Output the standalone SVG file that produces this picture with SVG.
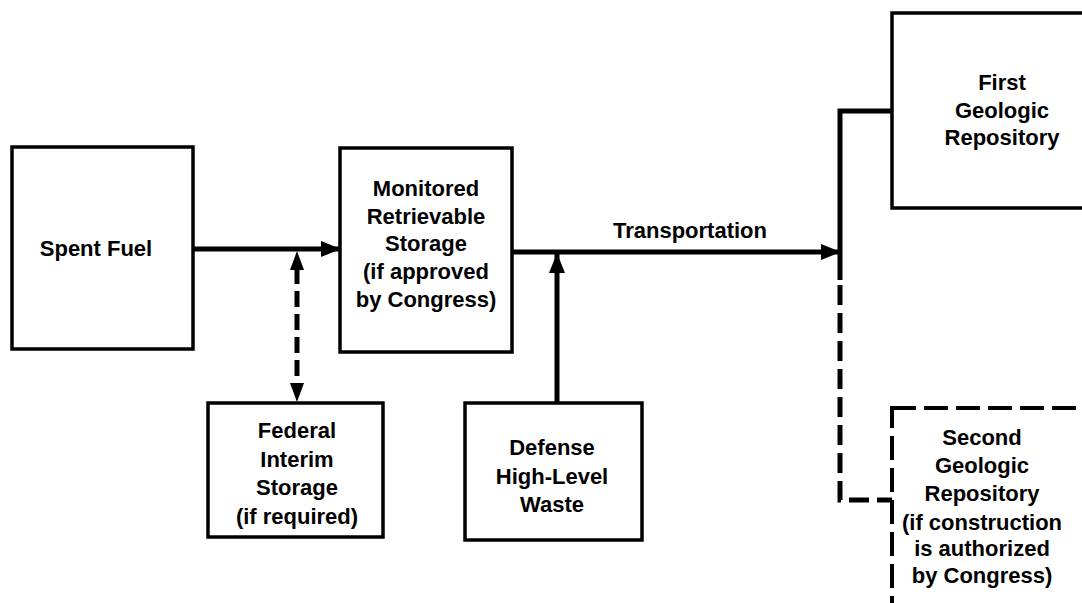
<svg xmlns="http://www.w3.org/2000/svg" width="1082" height="603" viewBox="0 0 1082 603">
<style>
.box{fill:#fff;stroke:#000;stroke-width:3.5}
.dbox{fill:#fff;stroke:#000;stroke-width:4;stroke-dasharray:24 8}
.t{font-family:"Liberation Sans",Arial,sans-serif;font-weight:bold;font-size:22px;fill:#000;text-anchor:middle}
.ln{fill:none;stroke:#000;stroke-width:5}
.dl{fill:none;stroke:#000;stroke-width:5;stroke-dasharray:20 8}
</style>
<defs>
<marker id="ah" markerUnits="userSpaceOnUse" markerWidth="20" markerHeight="16" refX="19" refY="8" orient="auto">
<path d="M0,0 L20,8 L0,16 Z" fill="#000"/>
</marker>
</defs>
<g id="spent-fuel"><rect class="box" x="12" y="147" width="181" height="202"/><text class="t" x="96" y="256">Spent Fuel</text></g>
<g id="mrs"><rect class="box" x="340" y="148" width="172" height="204"/>
<text class="t" x="426" y="196">Monitored</text><text class="t" x="426" y="224">Retrievable</text><text class="t" x="426" y="251">Storage</text><text class="t" x="426" y="279">(if approved</text><text class="t" x="426" y="307">by Congress)</text></g>
<g id="federal"><rect class="box" x="208" y="403" width="175" height="134"/>
<text class="t" x="297" y="438">Federal</text><text class="t" x="297" y="467">Interim</text><text class="t" x="297" y="495">Storage</text><text class="t" x="297" y="524">(if required)</text></g>
<g id="defense"><rect class="box" x="465" y="403" width="177" height="137"/>
<text class="t" x="552" y="455">Defense</text><text class="t" x="552" y="484">High-Level</text><text class="t" x="552" y="512">Waste</text></g>
<g id="first-repo"><rect class="box" x="892" y="13" width="200" height="195"/>
<text class="t" x="1002" y="90">First</text><text class="t" x="1002" y="118">Geologic</text><text class="t" x="1002" y="145">Repository</text></g>
<g id="second-repo"><rect class="dbox" x="892" y="408" width="200" height="210"/>
<text class="t" x="982" y="445">Second</text><text class="t" x="982" y="473">Geologic</text><text class="t" x="982" y="501">Repository</text><text class="t" x="982" y="530">(if construction</text><text class="t" x="982" y="556">is authorized</text><text class="t" x="982" y="583">by Congress)</text></g>
<g id="connectors">
<line class="ln" x1="194" y1="249" x2="340" y2="249" marker-end="url(#ah)"/>
<path d="M297,251 L290,270 L304,270 Z M297,402 L290,383 L304,383 Z" fill="#000"/>
<line class="dl" x1="297" y1="268" x2="297" y2="385" style="stroke-dasharray:16 7"/>
<line class="ln" x1="512" y1="252" x2="840" y2="252" marker-end="url(#ah)"/>
<line class="ln" x1="557" y1="402" x2="557" y2="254" marker-end="url(#ah)"/>
<text class="t" x="690" y="238">Transportation</text>
<path class="ln" d="M892,111 L840,111 L840,280"/>
<path class="dl" d="M840,285 L840,500 L892,500"/>
</g>
</svg>
